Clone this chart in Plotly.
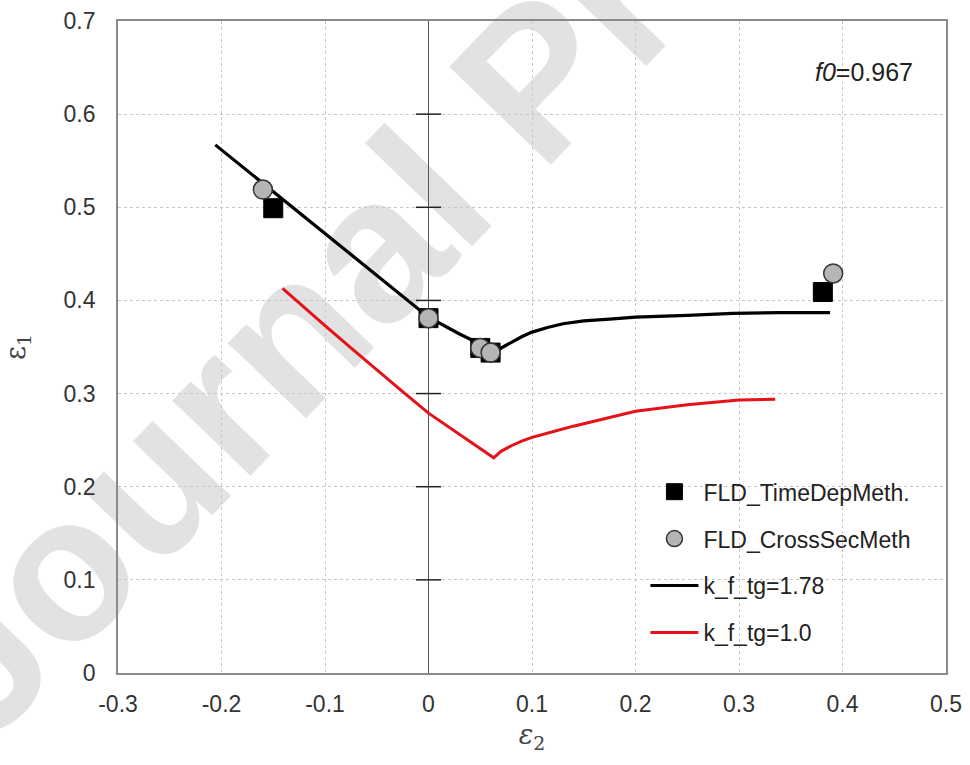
import plotly.graph_objects as go

# ---- data ----
sq_x = [-0.150, 0.000, 0.050, 0.060, 0.381]
sq_y = [0.499, 0.381, 0.349, 0.344, 0.409]
ci_x = [-0.160, 0.000, 0.050, 0.060, 0.391]
ci_y = [0.519, 0.381, 0.349, 0.344, 0.429]

k178_x = [-0.206, -0.150, -0.100, -0.050, 0.000, 0.030, 0.065, 0.072, 0.080, 0.090, 0.100,
          0.115, 0.130, 0.150, 0.175, 0.200, 0.250, 0.294, 0.340, 0.388]
k178_y = [0.567, 0.517, 0.472, 0.427, 0.382, 0.364, 0.345, 0.350, 0.355, 0.361, 0.366,
          0.371, 0.375, 0.378, 0.380, 0.382, 0.384, 0.386, 0.387, 0.387]

k10_x = [-0.141, -0.120, -0.100, -0.075, -0.050, -0.025, 0.000, 0.030, 0.063, 0.070, 0.080,
         0.090, 0.100, 0.120, 0.140, 0.170, 0.200, 0.250, 0.300, 0.335]
k10_y = [0.413, 0.392, 0.373, 0.349, 0.325, 0.302, 0.279, 0.256, 0.231, 0.238, 0.244,
         0.249, 0.253, 0.259, 0.265, 0.273, 0.281, 0.288, 0.293, 0.294]

y_ticks = [0, 0.1, 0.2, 0.3, 0.4, 0.5, 0.6, 0.7]
x_ticks = [-0.3, -0.2, -0.1, 0, 0.1, 0.2, 0.3, 0.4, 0.5]
y_tick_text = ["0", "0.1", "0.2", "0.3", "0.4", "0.5", "0.6", "0.7"]
x_tick_text = ["-0.3", "-0.2", "-0.1", "0", "0.1", "0.2", "0.3", "0.4", "0.5"]

names = ["FLD_TimeDepMeth.", "FLD_CrossSecMeth", "k_f_tg=1.78", "k_f_tg=1.0"]

FONT = "Liberation Sans, Arial, sans-serif"

fig = go.Figure()

# cross ticks on the x=0 axis
fig.add_trace(go.Scatter(
    x=[0] * (len(y_ticks) - 2), y=y_ticks[1:-1], mode="markers",
    marker=dict(symbol="line-ew-open", size=18, color="#222222",
                line=dict(color="#222222", width=1.5)),
    showlegend=False, hoverinfo="skip"))

fig.add_trace(go.Scatter(
    x=k178_x, y=k178_y, mode="lines", name=names[2],
    line=dict(color="#000000", width=3.2),
    legendgroup="c", legendrank=3))
fig.add_trace(go.Scatter(
    x=k10_x, y=k10_y, mode="lines", name=names[3],
    line=dict(color="#e3121b", width=3),
    legendgroup="d", legendrank=4))
fig.add_trace(go.Scatter(
    x=sq_x, y=sq_y, mode="markers", name=names[0],
    marker=dict(symbol="square", size=19, color="#000000", line=dict(color="#000000", width=1)),
    legendgroup="a", legendrank=1))
fig.add_trace(go.Scatter(
    x=ci_x, y=ci_y, mode="markers", name=names[1],
    marker=dict(symbol="circle", size=19, color="#b5b5b5", line=dict(color="#333333", width=1.5)),
    legendgroup="b", legendrank=2))

# watermark (behind the plot)
fig.add_shape(
    type="rect", xref="paper", yref="paper", x0=0.48, x1=0.49, y0=0.925, y1=0.935,
    line=dict(width=0), fillcolor="rgba(0,0,0,0)", layer="below",
    label=dict(text="<b>Journal Pre-proof</b>", textangle=-46,
               font=dict(family=FONT, size=205, color="#e2e2e2"),
               textposition="middle center"))

fig.add_annotation(
    xref="paper", yref="paper", x=0.963, y=0.922, xanchor="right", yanchor="middle",
    text="<i>f0</i>=0.967", showarrow=False,
    font=dict(family=FONT, size=25, color="#222222"))

axis_common = dict(
    showline=True, linecolor="#8a8a8a", linewidth=1.8, mirror=True,
    showgrid=True, gridcolor="#c8c8c8", griddash="dot", gridwidth=1,
    ticks="", tickfont=dict(family=FONT, size=23, color="#333333"),
    automargin=False,
)

fig.update_xaxes(
    range=[-0.3, 0.5], tickvals=x_ticks, ticktext=x_tick_text,
    zeroline=True, zerolinecolor="#555555", zerolinewidth=1.2, ticklabelstandoff=9,
    title=dict(text="<i>ε</i><sub>2</sub>", font=dict(family="DejaVu Serif", size=27, color="#444444"), standoff=10),
    **axis_common)
fig.update_yaxes(
    range=[0, 0.7], tickvals=y_ticks, ticktext=y_tick_text,
    zeroline=False, ticklabelstandoff=16,
    title=dict(text="ε<sub>1</sub>", font=dict(family="DejaVu Serif", size=27, color="#444444"), standoff=30),
    **axis_common)

fig.update_layout(
    width=970, height=765,
    margin=dict(l=118, r=24, t=21, b=92),
    paper_bgcolor="white", plot_bgcolor="rgba(0,0,0,0)",
    legend=dict(x=0.637, y=0.311, xanchor="left", yanchor="top",
                bgcolor="rgba(0,0,0,0)", borderwidth=0,
                traceorder="grouped", tracegroupgap=14, itemwidth=48,
                font=dict(family=FONT, size=23, color="#222222")),
    showlegend=True,
)

fig.write_html("out.html")
